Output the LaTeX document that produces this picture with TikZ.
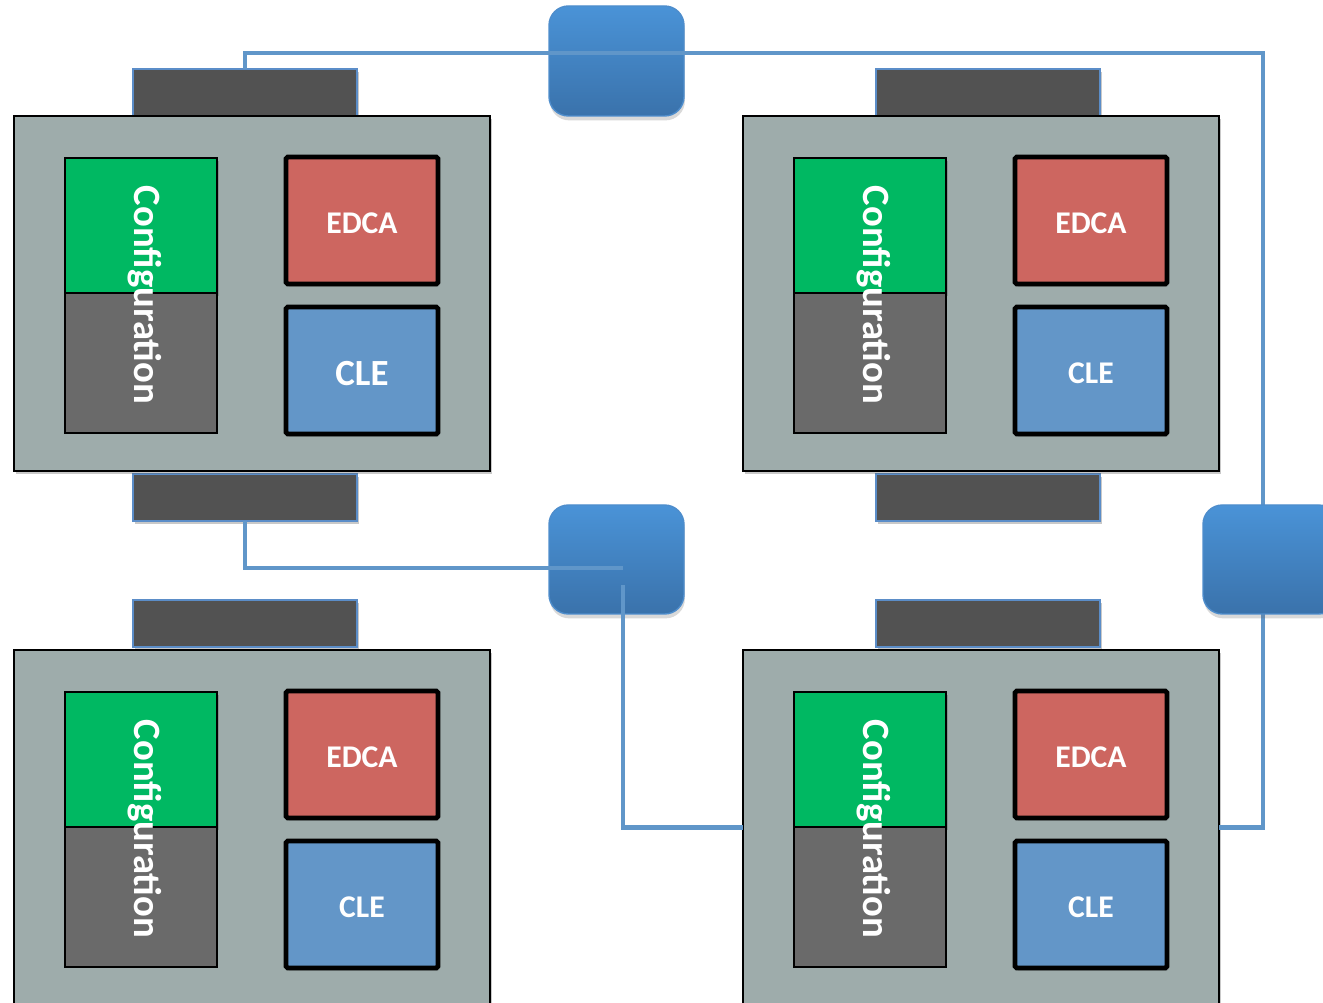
\documentclass[tikz,border=0pt]{standalone}
\usepackage{fontspec}
\setmainfont{Carlito}
\usetikzlibrary{shadows}

\definecolor{slate}{HTML}{9EACAB}
\definecolor{cfggreen}{HTML}{00B862}
\definecolor{cfggray}{HTML}{6A6A6A}
\definecolor{edcared}{HTML}{CD6660}
\definecolor{cleblue}{HTML}{6396C8}
\definecolor{tabgray}{HTML}{525252}
\definecolor{tabedge}{HTML}{5B8DC8}
\definecolor{wire}{HTML}{6096C9}
\definecolor{swtop}{HTML}{4A93D7}
\definecolor{swbot}{HTML}{3A72AB}
\definecolor{swedge}{HTML}{4E8DCC}

\tikzset{
  box/.style={rectangle, inner sep=0pt, outer sep=0pt},
  softshadow/.style={drop shadow={shadow xshift=1pt, shadow yshift=-1.5pt, opacity=0.3, fill=black!70}},
  chassis/.style={box, fill=slate, draw=black, line width=1.1pt, softshadow},
  port/.style={box, fill=tabgray, draw=tabedge, line width=1pt, softshadow},
  cfgtop/.style={box, fill=cfggreen, draw=black, line width=1.6pt, softshadow},
  cfgbot/.style={box, fill=cfggray, draw=black, line width=1.6pt},
  unit/.style={box, draw=black, line width=2.8pt, rounded corners=1pt, softshadow},
  label/.style={text=white, font=\bfseries, inner sep=0pt},
  switchbox/.style={box, top color=swtop, bottom color=swbot, draw=swedge, line width=0.8pt,
    rounded corners=11pt, drop shadow={shadow xshift=0.5pt, shadow yshift=-2.5pt, opacity=0.25, fill=black!60}},
  link/.style={draw=wire, line width=2.8pt},
}

% One card: #1 name, (#2,#3) top-left corner of the chassis, #4 size of the CLE label
\newcommand{\cardunit}[4]{
  \node[chassis, minimum width=476*0.02cm, minimum height=355*0.02cm] (#1) at (#2+238,#3+177.5) {};
  \node[cfgtop, minimum width=152*0.02cm, minimum height=135*0.02cm] (#1-g) at (#2+127,#3+109.5) {};
  \node[cfgbot, minimum width=152*0.02cm, minimum height=140*0.02cm] (#1-k) at (#2+127,#3+247) {};
  \node[label, rotate=-90, font=\fontsize{22}{26}\selectfont\bfseries] (#1-t) at (#2+131,#3+179) {Configuration};
  \node[unit, fill=edcared, minimum width=152*0.02cm, minimum height=127*0.02cm] (#1-e) at (#2+348,#3+104.5) {};
  \node[label, font=\fontsize{18}{22}\selectfont\bfseries] (#1-el) at ([yshift=-3*0.02cm]#1-e.center) {EDCA};
  \node[unit, fill=cleblue, minimum width=152*0.02cm, minimum height=127*0.02cm] (#1-c) at (#2+348,#3+254.5) {};
  \node[label, font=\fontsize{#4}{#4}\selectfont\bfseries] (#1-cl) at ([yshift=-3*0.02cm]#1-c.center) {CLE};
}

\begin{document}
\begin{tikzpicture}[x=0.02cm, y=-0.02cm]
\useasboundingbox (0,0) rectangle (1323,1003);

% ports above and below the cards
\node[port, minimum width=224*0.02cm, minimum height=47*0.02cm] (p1t) at (245,92.5) {};
\node[port, minimum width=224*0.02cm, minimum height=47*0.02cm] (p1b) at (245,497.5) {};
\node[port, minimum width=224*0.02cm, minimum height=47*0.02cm] (p2t) at (988,92.5) {};
\node[port, minimum width=224*0.02cm, minimum height=47*0.02cm] (p2b) at (988,497.5) {};
\node[port, minimum width=224*0.02cm, minimum height=47*0.02cm] (p3t) at (245,623.5) {};
\node[port, minimum width=224*0.02cm, minimum height=47*0.02cm] (p4t) at (988,623.5) {};

% the four cards
\cardunit{m1}{14}{116}{21}
\cardunit{m2}{743}{116}{18}
\cardunit{m3}{14}{650}{18}
\cardunit{m4}{743}{650}{18}

% switches
\node[switchbox, minimum width=135*0.02cm, minimum height=110*0.02cm] (sw1) at (616.5,61) {};
\node[switchbox, minimum width=135*0.02cm, minimum height=109*0.02cm] (sw2) at (616.5,559.5) {};

% wiring
\coordinate (ne) at (1263,53);
\coordinate (mid) at (623,568);
\coordinate (drop) at (623,585);
\draw[link] (p1t.north) |- (ne) -- (ne |- 0,560);
\draw[link] (ne |- 0,560) |- (m4.east);
\draw[link] (p1b.south) |- (mid);
\draw[link] (drop) |- (m4.west);

\node[switchbox, minimum width=135*0.02cm, minimum height=109*0.02cm] (sw3) at (1270.5,559.5) {};
\end{tikzpicture}
\end{document}
